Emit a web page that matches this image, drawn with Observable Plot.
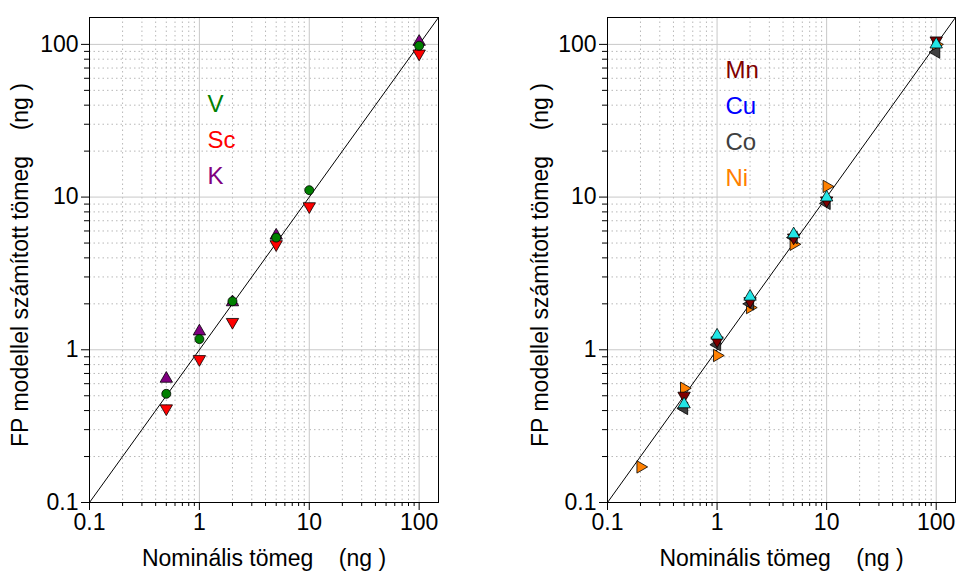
<!DOCTYPE html>
<html>
<head>
<meta charset="utf-8">
<script src="https://cdn.jsdelivr.net/npm/d3@7"></script>
<script src="https://cdn.jsdelivr.net/npm/@observablehq/plot@0.6"></script>
<style>
  body { margin: 0; background: #fff; }
  #chart { display: flex; width: 957px; height: 572px; }
</style>
</head>
<body>
<div id="chart"></div>
<script>
// Nominal masses (ng) and computed masses from the FP model (ng)
const nominalA = [0.5, 1, 2, 5, 10, 100];
const V  = [0.515, 1.175, 2.08, 5.43, 11.1, 98];
const Sc = [0.413, 0.868, 1.52, 4.91, 8.7, 87];
const K  = [0.647, 1.32, 2.05, 5.6, null, 104];

const nominalB = [0.2, 0.5, 1, 2, 5, 10, 100];
const Mn = [null, 0.50, 1.15, 2.08, 5.43, 9.5, 106];
const Cu = [null, 0.44, 1.24, 2.23, 5.71, 9.95, 100];
const Co = [null, 0.413, 1.08, 2.0, 5.43, 9.1, 89];
const Ni = [0.171, 0.56, 0.917, 1.89, 4.91, 11.75, 100];

const majorTicks = [0.1, 1, 10, 100];
const minorTicks = [0.2, 0.3, 0.4, 0.5, 0.6, 0.7, 0.8, 0.9,
                    2, 3, 4, 5, 6, 7, 8, 9,
                    20, 30, 40, 50, 60, 70, 80, 90];
const tickLabels = ["0.1", "1", "10", "100"];
const identityLine = [0.1, 150];

const xLabel = "Nominális tömeg\u00a0\u00a0\u00a0\u00a0(ng )";
const yLabel = "FP modellel számított tömeg\u00a0\u00a0\u00a0\u00a0(ng )";

const rows = (nominal, values) =>
  nominal.map((x, i) => ({x, y: values[i]})).filter(d => d.y != null);

// series drawn in order (later ones on top)
const seriesA = [
  {name: "K",  values: K,  fill: "#800080", text: "#800080", symbol: "triangle", rotate: 0},
  {name: "Sc", values: Sc, fill: "#ff0000", text: "#ff0000", symbol: "triangle", rotate: 180},
  {name: "V",  values: V,  fill: "#008000", text: "#008000", symbol: "circle",   rotate: 0}
];
const legendA = ["V", "Sc", "K"];

const seriesB = [
  {name: "Ni", values: Ni, fill: "#ff8000", text: "#ff8000", symbol: "triangle", rotate: 90},
  {name: "Co", values: Co, fill: "#404040", text: "#404040", symbol: "triangle", rotate: -90},
  {name: "Mn", values: Mn, fill: "#800000", text: "#800000", symbol: "triangle", rotate: 180},
  {name: "Cu", values: Cu, fill: "#22e6e6", text: "#0000ff", symbol: "triangle", rotate: 0}
];
const legendB = ["Mn", "Cu", "Co", "Ni"];

function panel({width, marginLeft, marginRight, nominal, series, legend, legendTop, yLabelDx}) {
  const byName = Object.fromEntries(series.map(s => [s.name, s]));
  const fmt = d => tickLabels[majorTicks.indexOf(d)];
  return Plot.plot({
    width, height: 572,
    marginLeft, marginRight, marginTop: 17, marginBottom: 70,
    style: {fontFamily: "'Liberation Sans', Arial, sans-serif", background: "#fff", color: "#000"},
    x: {type: "log", domain: [0.1, 150]},
    y: {type: "log", domain: [0.1, 150]},
    marks: [
      Plot.gridX(minorTicks, {stroke: "#b8b8b8", strokeOpacity: 1, strokeDasharray: "1.5,3"}),
      Plot.gridY(minorTicks, {stroke: "#b8b8b8", strokeOpacity: 1, strokeDasharray: "1.5,3"}),
      Plot.gridX(majorTicks, {stroke: "#c8c8c8", strokeOpacity: 1}),
      Plot.gridY(majorTicks, {stroke: "#c8c8c8", strokeOpacity: 1}),
      Plot.axisX(minorTicks, {tickSize: 4, tickFormat: () => "", label: null}),
      Plot.axisY(minorTicks, {tickSize: 5, tickFormat: () => "", label: null}),
      Plot.axisX(majorTicks, {tickSize: 8, tickPadding: 3, fontSize: 23, tickFormat: fmt, label: null}),
      Plot.axisY(majorTicks, {tickSize: 8, tickPadding: 3, fontSize: 23, tickFormat: fmt, label: null}),
      // axis titles
      Plot.text([xLabel], {text: d => d, frameAnchor: "bottom", textAnchor: "middle",
                           lineAnchor: "middle", dy: 56, fontSize: 23}),
      Plot.text([yLabel], {text: d => d, frameAnchor: "left", textAnchor: "middle",
                           lineAnchor: "middle", rotate: -90, dx: yLabelDx, dy: 5, fontSize: 23}),
      Plot.frame({stroke: "#000"}),
      Plot.line(identityLine, {x: d => d, y: d => d, stroke: "#000", strokeWidth: 1}),
      ...series.map(s => Plot.dot(rows(nominal, s.values), {
        x: "x", y: "y", symbol: s.symbol, rotate: s.rotate,
        r: s.symbol === "circle" ? 4.5 : 4.6,
        fill: s.fill, stroke: "#000", strokeWidth: 0.8
      })),
      ...legend.map((name, i) => Plot.text([name], {
        text: d => d, frameAnchor: "top-left", textAnchor: "start", lineAnchor: "middle",
        dx: 118, dy: legendTop + i * 36, fill: byName[name].text, fontSize: 24
      }))
    ]
  });
}

const chart = document.getElementById("chart");
chart.append(panel({width: 478, marginLeft: 89, marginRight: 40, nominal: nominalA,
                    series: seriesA, legend: legendA, legendTop: 87, yLabelDx: -69}));
chart.append(panel({width: 479, marginLeft: 129, marginRight: 2, nominal: nominalB,
                    series: seriesB, legend: legendB, legendTop: 53, yLabelDx: -67}));
</script>
</body>
</html>
